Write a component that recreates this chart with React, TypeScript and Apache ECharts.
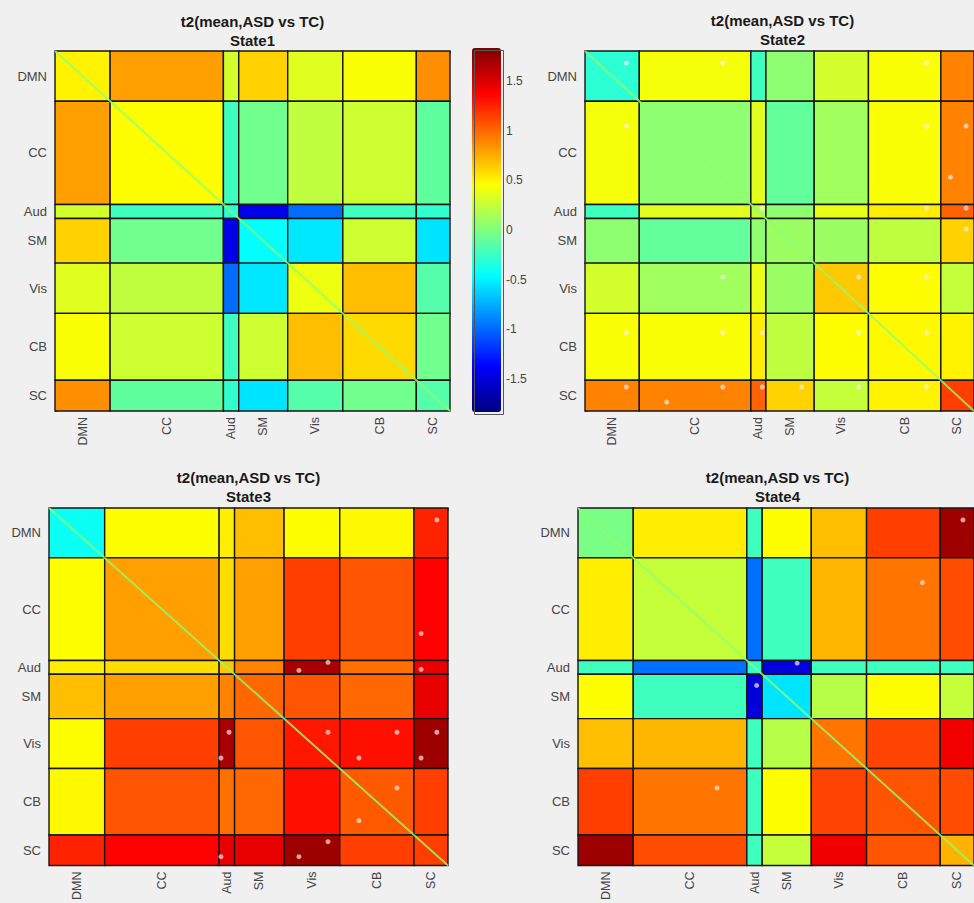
import React, { useEffect, useRef } from 'react';
import * as echarts from 'echarts';

// ---------- data ----------
const NETWORKS = ['DMN', 'CC', 'Aud', 'SM', 'Vis', 'CB', 'SC'];
const BLOCK_SIZES = [18, 37, 5, 16, 18, 24, 11]; // nodes per network
const TITLE_MAIN = 't2(mean,ASD vs TC)';
const STATE_NAMES = ['State1', 'State2', 'State3', 'State4'];
const COLOR_MIN = -1.83;
const COLOR_MAX = 1.83;
const COLORBAR_TICKS = [-1.5, -1, -0.5, 0, 0.5, 1, 1.5];

// block-mean t values, rows/cols in NETWORKS order
const STATE1 = [
  [0.50, 0.80, 0.30, 0.62, 0.35, 0.44, 0.86],
  [0.80, 0.46, -0.23, -0.05, 0.23, 0.28, -0.11],
  [0.30, -0.23, -0.30, -1.45, -0.98, -0.23, -0.28],
  [0.62, -0.05, -1.45, -0.45, -0.54, 0.28, -0.55],
  [0.35, 0.23, -0.98, -0.54, 0.40, 0.69, -0.15],
  [0.44, 0.28, -0.23, 0.28, 0.69, 0.59, -0.05],
  [0.86, -0.11, -0.28, -0.55, -0.15, -0.05, -0.15],
];
const STATE2 = [
  [-0.30, 0.42, -0.23, 0.05, 0.30, 0.44, 0.90],
  [0.42, 0.05, 0.35, -0.10, 0.12, 0.44, 0.90],
  [-0.23, 0.35, 0.23, 0.05, 0.38, 0.52, 1.02],
  [0.05, -0.10, 0.05, 0.10, 0.10, 0.23, 0.62],
  [0.30, 0.12, 0.38, 0.10, 0.65, 0.46, 0.25],
  [0.44, 0.44, 0.52, 0.23, 0.46, 0.48, 0.50],
  [0.90, 0.90, 1.02, 0.62, 0.25, 0.50, 1.15],
];
const STATE3 = [
  [-0.42, 0.46, 0.52, 0.69, 0.46, 0.48, 1.25],
  [0.46, 0.80, 0.58, 0.80, 1.15, 1.07, 1.37],
  [0.52, 0.58, 0.65, 0.90, 1.68, 0.97, 1.45],
  [0.69, 0.80, 0.90, 1.00, 1.07, 1.00, 1.45],
  [0.46, 1.15, 1.68, 1.07, 1.29, 1.32, 1.72],
  [0.48, 1.07, 0.97, 1.00, 1.32, 1.05, 1.15],
  [1.25, 1.37, 1.45, 1.45, 1.72, 1.15, 1.15],
];
const STATE4 = [
  [-0.02, 0.52, -0.23, 0.46, 0.69, 1.15, 1.72],
  [0.52, 0.25, -0.97, -0.23, 0.72, 0.95, 1.10],
  [-0.23, -0.97, -0.30, -1.50, -0.23, -0.23, -0.23],
  [0.46, -0.23, -1.50, -0.55, 0.20, 0.46, 0.25],
  [0.69, 0.72, -0.23, 0.20, 0.95, 1.13, 1.42],
  [1.15, 0.95, -0.23, 0.46, 1.13, 1.07, 1.10],
  [1.72, 1.10, -0.23, 0.25, 1.42, 1.07, 0.73],
];

// significant node pairs [col node, row node]
const STARS1: number[][] = [];
const STARS2 = [
  [13.7, 4.3], [45.7, 4.3], [113.3, 4.3],
  [13.7, 26.9], [113.3, 26.9], [126.4, 26.9],
  [121.2, 45.2],
  [58.8, 56.3], [113.3, 56.3], [126.4, 56.3],
  [126.4, 63.8],
  [45.7, 81], [90.8, 81], [113.3, 81],
  [13.7, 101], [45.7, 101], [58.8, 101], [90.8, 101], [113.3, 101],
  [13.7, 120.4], [45.7, 120.4], [58.8, 120.4], [71.8, 120.4], [90.8, 120.4], [113.3, 120.4],
  [27.1, 125.8],
];
const STARS3 = [
  [125.4, 4.3], [120.3, 45.3], [90.2, 55.7], [80.8, 58.6], [120.3, 58.2],
  [58.2, 80.9], [55.6, 90.2], [90.2, 80.9], [112.5, 80.9], [125.4, 80.9],
  [100.2, 90.2], [120.3, 90.2], [112.5, 101], [100.2, 112.8],
  [90.2, 120.4], [80.8, 125.8], [55.6, 125.8],
];
const STARS4 = [
  [125.4, 4.3], [112.2, 26.9], [71.4, 56], [58.2, 64], [45.3, 101],
];

const STATES = [STATE1, STATE2, STATE3, STATE4];
const STARS = [STARS1, STARS2, STARS3, STARS4];

// jet colormap
const JET = ['#00007f', '#0000ff', '#007fff', '#00ffff', '#7fff7f', '#ffff00', '#ff7f00', '#ff0000', '#7f0000'];

// ---------- layout ----------
const GRIDS = [
  { left: 55, top: 51, width: 395, height: 360 },
  { left: 585, top: 51, width: 395, height: 360 },
  { left: 49, top: 508, width: 399, height: 359 },
  { left: 578, top: 508, width: 399, height: 359 },
];
const TITLE_TOPS = [12, 11, 467.5, 467.5];
const CBAR = { left: 472, top: 48, width: 29, height: 364 };
const FONT = "'Liberation Sans', Arial, sans-serif";

export default function App() {
  const ref = useRef<HTMLDivElement>(null);

  useEffect(() => {
    if (!ref.current) return;
    const chart = echarts.init(ref.current, undefined, { renderer: 'svg' });

    const edges = [0];
    BLOCK_SIZES.forEach((s) => edges.push(edges[edges.length - 1] + s));
    const N = edges[edges.length - 1];
    const centers = BLOCK_SIZES.map((s, i) => edges[i] + s / 2);
    const nodeTicks = Array.from({ length: N + 1 }, (_, i) => i);
    const nameOf = (v: number) => {
      const i = centers.findIndex((c) => Math.abs(c - v) < 1e-6);
      return i >= 0 ? NETWORKS[i] : '';
    };
    const blockData = (m: number[][]) => {
      const out: number[][] = [];
      for (let r = 0; r < NETWORKS.length; r++)
        for (let c = 0; c < NETWORKS.length; c++)
          out.push([edges[c], edges[r], edges[c + 1], edges[r + 1], m[r][c]]);
      return out;
    };

    const grid: any[] = GRIDS.map((g) => ({ ...g, containLabel: false }));
    grid.push({ ...CBAR, containLabel: false });

    const tickStyle = { color: 'rgba(30,30,0,0.55)', width: 1 };
    const xAxis: any[] = [];
    const yAxis: any[] = [];
    GRIDS.forEach((_, i) => {
      xAxis.push({
        type: 'value', gridIndex: i, min: 0, max: N, position: 'bottom',
        axisLine: { show: false }, axisTick: { show: false }, splitLine: { show: false },
        axisLabel: {
          customValues: centers, formatter: nameOf, rotate: 90, margin: 6,
          color: '#444', fontSize: 12.5, fontFamily: FONT,
        },
      });
      yAxis.push({
        type: 'value', gridIndex: i, min: 0, max: N, inverse: true,
        axisLine: { show: false }, splitLine: { show: false },
        axisTick: { show: true, customValues: nodeTicks, inside: true, length: 3, lineStyle: tickStyle },
        axisLabel: { customValues: centers, formatter: nameOf, margin: 8, color: '#444', fontSize: 13, fontFamily: FONT },
      });
    });
    GRIDS.forEach((_, i) => {
      xAxis.push({
        type: 'value', gridIndex: i, min: 0, max: N, position: 'top',
        axisLine: { show: false }, splitLine: { show: false }, axisLabel: { show: false },
        axisTick: { show: true, customValues: nodeTicks, inside: true, length: 3, lineStyle: tickStyle },
      });
    });
    // colorbar axes
    xAxis.push({ type: 'value', gridIndex: 4, show: false, min: 0, max: 1 });
    yAxis.push({
      type: 'value', gridIndex: 4, min: COLOR_MIN, max: COLOR_MAX, position: 'right',
      axisLine: { show: false }, splitLine: { show: false }, axisTick: { show: false },
      axisLabel: { customValues: COLORBAR_TICKS, margin: 5, color: '#444', fontSize: 12, fontFamily: FONT },
    });

    const series: any[] = [];
    STATES.forEach((m, i) => {
      series.push({
        type: 'custom', xAxisIndex: i, yAxisIndex: i, silent: true,
        encode: { x: [0, 2], y: [1, 3] },
        data: blockData(m),
        renderItem: (params: any, api: any) => {
          const p0 = api.coord([api.value(0), api.value(1)]);
          const p1 = api.coord([api.value(2), api.value(3)]);
          return {
            type: 'rect',
            shape: { x: p0[0], y: p0[1], width: p1[0] - p0[0], height: p1[1] - p0[1] },
            style: { fill: api.visual('color'), stroke: '#161616', lineWidth: 1.4 },
          };
        },
      });
    });
    STATES.forEach((_, i) => {
      series.push({
        type: 'line', xAxisIndex: i, yAxisIndex: i, silent: true, symbol: 'none', clip: true,
        data: [[0, 0], [N, N]],
        lineStyle: { color: '#8cff70', width: 2, opacity: 0.8 },
        z: 3,
      });
    });
    STARS.forEach((s, i) => {
      series.push({
        type: 'scatter', xAxisIndex: i, yAxisIndex: i, silent: true,
        data: s, symbol: 'circle', symbolSize: 5,
        itemStyle: { color: 'rgba(255,236,242,0.85)' },
        z: 4,
      });
    });

    const title = GRIDS.map((g, i) => ({
      text: TITLE_MAIN + '\n' + STATE_NAMES[i],
      left: g.left + g.width / 2,
      top: TITLE_TOPS[i],
      padding: 0,
      textAlign: 'center',
      textStyle: { fontSize: 15, fontWeight: 'bold', color: '#1a1a1a', fontFamily: FONT, lineHeight: 19 },
    }));

    chart.setOption({
      animation: false,
      backgroundColor: '#f0f0f0',
      title,
      grid,
      xAxis,
      yAxis,
      visualMap: {
        type: 'continuous', min: COLOR_MIN, max: COLOR_MAX, dimension: 4,
        seriesIndex: [0, 1, 2, 3], inRange: { color: JET },
        left: CBAR.left, top: CBAR.top, itemWidth: CBAR.width, itemHeight: CBAR.height,
        calculable: false, hoverLink: false, padding: 0, showLabel: false,
      },
      graphic: [
        {
          type: 'rect', left: CBAR.left, top: CBAR.top, z: 100, silent: true,
          shape: { width: CBAR.width, height: CBAR.height },
          style: { fill: 'none', stroke: '#555', lineWidth: 1 },
        },
      ],
      series,
    });

    return () => chart.dispose();
  }, []);

  return <div ref={ref} style={{ position: 'absolute', left: 0, top: 0, width: 974, height: 903 }} />;
}
